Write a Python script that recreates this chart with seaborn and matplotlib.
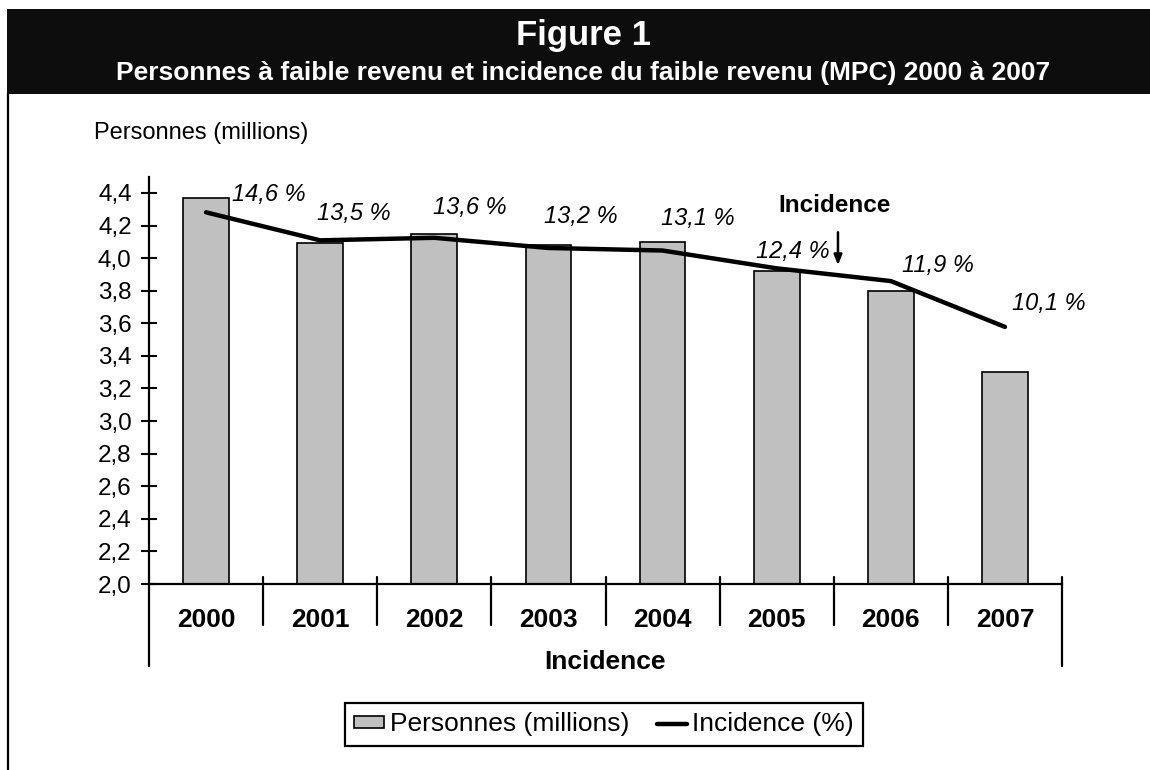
import numpy as np
import pandas as pd
import seaborn as sns
import matplotlib.pyplot as plt
from matplotlib.lines import Line2D
from matplotlib.patches import Rectangle
from matplotlib.ticker import FuncFormatter
from matplotlib import transforms

years = ["2000", "2001", "2002", "2003", "2004", "2005", "2006", "2007"]
personnes = [4.37, 4.09, 4.15, 4.08, 4.10, 3.92, 3.80, 3.30]
incidence = [14.6, 13.5, 13.6, 13.2, 13.1, 12.4, 11.9, 10.1]
y_ticks = [2.0, 2.2, 2.4, 2.6, 2.8, 3.0, 3.2, 3.4, 3.6, 3.8, 4.0, 4.2, 4.4]

title = "Figure 1"
subtitle = "Personnes à faible revenu et incidence du faible revenu (MPC) 2000 à 2007"

# label offsets (points) for the percentage annotations
label_offsets = [(19, 13), (-2, 19), (-1, 22), (-3, 23), (-1, 23), (-15, 12), (8, 11), (5, 17)]

sns.set_theme(style="white")
plt.rcParams["font.family"] = ["Liberation Sans", "DejaVu Sans"]
plt.rcParams.update({"text.color": "black", "axes.labelcolor": "black",
                     "xtick.color": "black", "ytick.color": "black"})

df = pd.DataFrame({"annee": years, "personnes": personnes, "incidence": incidence})

fig = plt.figure(figsize=(11.5, 7.7), dpi=100)
ax = fig.add_axes([149 / 1150, 1 - 584 / 770, (1062 - 149) / 1150, (584 - 176.7) / 770])

sns.barplot(data=df, x="annee", y="personnes", order=years, color="#c0c0c0",
            edgecolor="black", linewidth=1.2, width=0.4, saturation=1, ax=ax)
ax.set_ylim(2.0, 4.5)
ax.set_xlim(-0.5, len(years) - 0.5)
ax.set_yticks(y_ticks)
ax.yaxis.set_major_formatter(FuncFormatter(lambda v, p: f"{v:.1f}".replace(".", ",")))
ax.tick_params(axis="y", direction="inout", length=11, width=1.5, labelsize=17.5,
               pad=7, left=True, color="black")
ax.tick_params(axis="x", length=0, labelsize=19, pad=17)
for lab in ax.get_xticklabels():
    lab.set_fontweight("bold")
for side in ["top", "right"]:
    ax.spines[side].set_visible(False)
for side in ["left", "bottom"]:
    ax.spines[side].set_linewidth(1.6)
    ax.spines[side].set_color("black")
ax.set_ylabel("")
ax.set_xlabel("Incidence", fontsize=19, fontweight="bold")
ax.xaxis.set_label_coords(0.5, -78 / 407.3)
ax.xaxis.label.set_va("center")

# category separators below the axis
trans = transforms.blended_transform_factory(ax.transData, ax.transAxes)
h = 407.3
for i in range(len(years) + 1):
    xb = i - 0.5
    if i == 0:
        ys = (0, -82 / h)
    elif i == len(years):
        ys = (7 / h, -82 / h)
    else:
        ys = (7 / h, -41 / h)
    ax.add_line(Line2D([xb, xb], ys, transform=trans, color="black", lw=1.6, clip_on=False))

ax2 = ax.twinx()
sns.lineplot(x=np.arange(len(years)), y=incidence, color="black", linewidth=3.2, ax=ax2)
ax2.set_ylim(0, 16)
ax2.set_yticks([])
for side in ax2.spines:
    ax2.spines[side].set_visible(False)

for i, v in enumerate(incidence):
    ax2.annotate(f"{v:.1f} %".replace(".", ","), xy=(i, v), xytext=label_offsets[i],
                 textcoords="offset points", ha="left", va="center", fontsize=17,
                 style="italic", family=["Liberation Sans", "DejaVu Sans"])

ax.text(5.511, 4.321, "Incidence", ha="center", va="center", fontsize=17.5, fontweight="bold")
ax.annotate("", xy=(5.537, 3.94), xytext=(5.537, 4.176),
            arrowprops=dict(arrowstyle="-|>,head_length=0.5,head_width=0.2", color="black", lw=1.8))

# header band and frame
fig.add_artist(Rectangle((7 / 1150, 1 - 94 / 770), 1 - 7 / 1150, 85 / 770,
                         transform=fig.transFigure, facecolor="#0d0d0d", edgecolor="none"))
fig.add_artist(Line2D([7.5 / 1150, 7.5 / 1150], [0, 1 - 94 / 770], transform=fig.transFigure,
                      color="black", lw=1.6))
fig.text(583 / 1150, 1 - 35 / 770, title, ha="center", va="center", color="white",
         fontsize=25, fontweight="bold")
fig.text(583 / 1150, 1 - 73 / 770, subtitle, ha="center", va="center", color="white",
         fontsize=19, fontweight="bold")
fig.text(94 / 1150, 1 - 133 / 770, "Personnes (millions)", ha="left", va="center", fontsize=17)

handles = [Rectangle((0, 0), 1, 1, facecolor="#c0c0c0", edgecolor="black", lw=1.2),
           Line2D([], [], color="black", lw=3.2)]
leg = fig.legend(handles, ["Personnes (millions)", "Incidence (%)"], loc="center",
                 bbox_to_anchor=(604 / 1150, 1 - 724.5 / 770), ncol=2, fontsize=19,
                 frameon=True, fancybox=False, framealpha=1, edgecolor="black",
                 handlelength=1.15, handleheight=0.35, handletextpad=0.2, columnspacing=1.05,
                 borderpad=0.35)
leg.get_frame().set_linewidth(1.6)

fig.savefig("out.png", dpi=100)
